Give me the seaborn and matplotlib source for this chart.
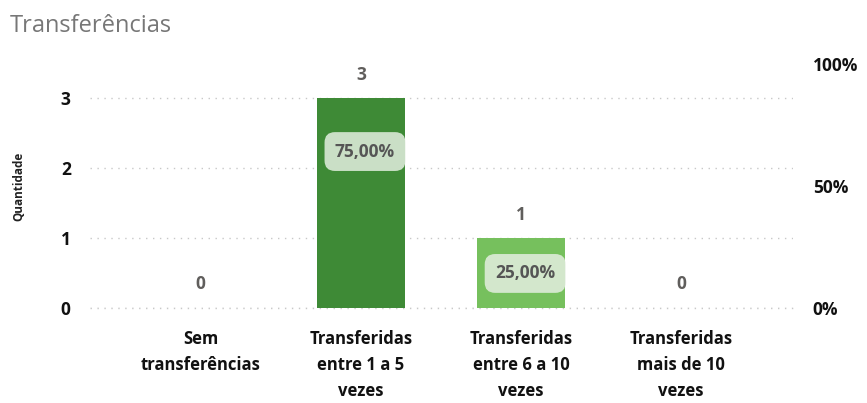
import numpy as np
import pandas as pd
import seaborn as sns
import matplotlib.pyplot as plt

# ── Data ───────────────────────────────────────────────────────────────────────
categories = ["Sem\ntransferências", "Transferidas\nentre 1 a 5\nvezes",
              "Transferidas\nentre 6 a 10\nvezes", "Transferidas\nmais de 10\nvezes"]
quantidade = [0, 3, 1, 0]
percentual = [0.0, 0.75, 0.25, 0.0]
bar_colors = ["#3E8A36", "#3E8A36", "#76C05D", "#76C05D"]

df = pd.DataFrame({"categoria": categories, "quantidade": quantidade, "pct": percentual})

# ── Style ──────────────────────────────────────────────────────────────────────
sns.set_style("white")
plt.rcParams["font.family"] = ["Open Sans", "DejaVu Sans"]

fig = plt.figure(figsize=(8.67, 4.03), dpi=100)
ax = fig.add_axes([0.104, 0.2357, 0.811, 0.605])

sns.barplot(data=df, x="categoria", y="quantidade", hue="categoria",
            palette=bar_colors, legend=False, width=0.55, ax=ax,
            edgecolor="none", saturation=1)

ax.set_xlim(-0.69, 3.7)
ax.set_ylim(0, 3.49)
ax.set_yticks([0, 1, 2, 3])
ax.grid(axis="y", color="#C8C8C8", linestyle=(0, (1, 4)), linewidth=1)
ax.axhline(0, color="#C8C8C8", linestyle=(0, (1, 4)), linewidth=1, clip_on=False, zorder=0)
ax.set_axisbelow(True)
sns.despine(ax=ax, left=True, bottom=True)
ax.tick_params(axis="both", length=0)
ax.tick_params(axis="y", pad=14)
ax.tick_params(axis="x", pad=16)
for lbl in ax.get_yticklabels():
    lbl.set_fontweight("bold")
    lbl.set_fontsize(12.5)
    lbl.set_color("#111111")
for lbl in ax.get_xticklabels():
    lbl.set_fontweight("bold")
    lbl.set_fontsize(12)
    lbl.set_color("#111111")
    lbl.set_linespacing(1.55)
ax.set_xlabel("")
ax.set_ylabel("Quantidade", fontsize=8.5, fontweight="bold", color="#222222")
ax.yaxis.set_label_coords(-0.092, 0.5)

# value labels above bars
for i, v in enumerate(quantidade):
    ax.annotate(f"{v}", (i, v), xytext=(0, 17), textcoords="offset points",
                ha="center", va="center", fontsize=12.5, fontweight="bold", color="#605E5C")

# ── Secondary axis (percent) ───────────────────────────────────────────────────
ax2 = ax.twinx()
ax2.set_ylim(0, 1)
ax2.set_yticks([0, 0.5, 1])
ax2.set_yticklabels(["0%", "50%", "100%"])
sns.despine(ax=ax2, left=True, bottom=True, right=True)
ax2.tick_params(axis="y", length=0, pad=14)
for lbl in ax2.get_yticklabels():
    lbl.set_fontweight("bold")
    lbl.set_fontsize(12.5)
    lbl.set_color("#111111")
ax2.grid(False)
ax2.set_xlim(ax.get_xlim())

for i, p in enumerate(percentual):
    if p > 0:
        txt = f"{p * 100:.2f}%".replace(".", ",")
        ax2.annotate(txt, (i, p), xytext=(3, -19), textcoords="offset points",
                     ha="center", va="center", fontsize=12.5, fontweight="bold",
                     color="#555555",
                     bbox=dict(boxstyle="round,pad=0.6,rounding_size=0.6",
                               fc="#E4EFE0", ec="none", alpha=0.85))

fig.text(0.011, 0.965, "Transferências", fontsize=17, color="#777777",
         ha="left", va="top")

plt.savefig("out.png", dpi=100)
